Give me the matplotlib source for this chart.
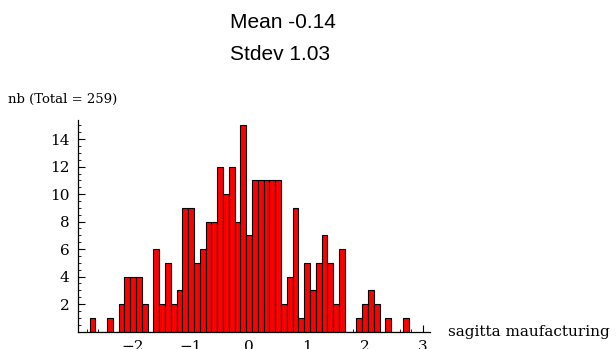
import matplotlib
matplotlib.use('Agg')
import matplotlib.pyplot as plt
from matplotlib import font_manager
from matplotlib.ticker import MultipleLocator, FixedLocator
import numpy as np

# sagitta manufacturing deviations, histogram with 0.1 wide bins
bin_width = 0.1
bin_centers = np.round(np.arange(-2.7, 2.75, bin_width), 1)
counts = [1, 0, 0, 1, 0, 2, 4, 4, 4, 2,
          0, 6, 2, 5, 2, 3, 9, 9, 5, 6,
          8, 8, 12, 10, 12, 8, 15, 7, 11, 11,
          11, 11, 11, 2, 4, 9, 1, 5, 3, 5,
          7, 5, 2, 6, 0, 0, 1, 2, 3, 2,
          0, 1, 0, 0, 1]
mean_value = -0.14
stdev_value = 1.03
x_ticks = [-2, -1, 0, 1, 2, 3]
y_ticks = [2, 4, 6, 8, 10, 12, 14]

plt.rcParams['font.family'] = 'DejaVu Serif'

names = {f.name for f in font_manager.fontManager.ttflist}
if 'Liberation Sans Narrow' in names:
    head_font, head_size = 'Liberation Sans Narrow', 18
else:
    head_font, head_size = 'Liberation Sans', 15

fig = plt.figure(figsize=(6.16, 3.49), dpi=100)
ax = fig.add_axes([78 / 616, 17.5 / 349, 352 / 616, 211.5 / 349])

ax.bar(bin_centers, counts, width=bin_width, color='#ff0000',
       edgecolor='black', linewidth=0.8, zorder=2)

ax.set_xlim(-2.95, 3.12)
ax.set_ylim(0, 15.4)
for side in ['top', 'right']:
    ax.spines[side].set_visible(False)
for side in ['left', 'bottom']:
    ax.spines[side].set_linewidth(0.9)
    ax.spines[side].set_zorder(3)

ax.xaxis.set_major_locator(FixedLocator(x_ticks))
ax.xaxis.set_minor_locator(MultipleLocator(0.2))
ax.yaxis.set_major_locator(FixedLocator(y_ticks))
ax.yaxis.set_minor_locator(MultipleLocator(0.5))
ax.tick_params(which='major', direction='in', length=5, width=0.8,
               labelsize=11, pad=6)
ax.tick_params(which='minor', direction='in', length=2.5, width=0.6)
ax.set_axisbelow(True)

# two-line label above the plot
fig.text(230 / 616, 1 - 23 / 349, f'Mean {mean_value:.2f}', ha='left', va='center',
         family=head_font, fontsize=head_size)
fig.text(230 / 616, 1 - 54 / 349, f'Stdev {stdev_value:.2f}', ha='left', va='center',
         family=head_font, fontsize=head_size)
fig.text(8 / 616, 1 - 99 / 349, f'nb (Total = {sum(counts)})', ha='left', va='center',
         fontsize=9.5)
fig.text(448 / 616, 1 - 332 / 349, 'sagitta maufacturing', ha='left', va='center',
         fontsize=11)

fig.savefig('out.png', dpi=100)
